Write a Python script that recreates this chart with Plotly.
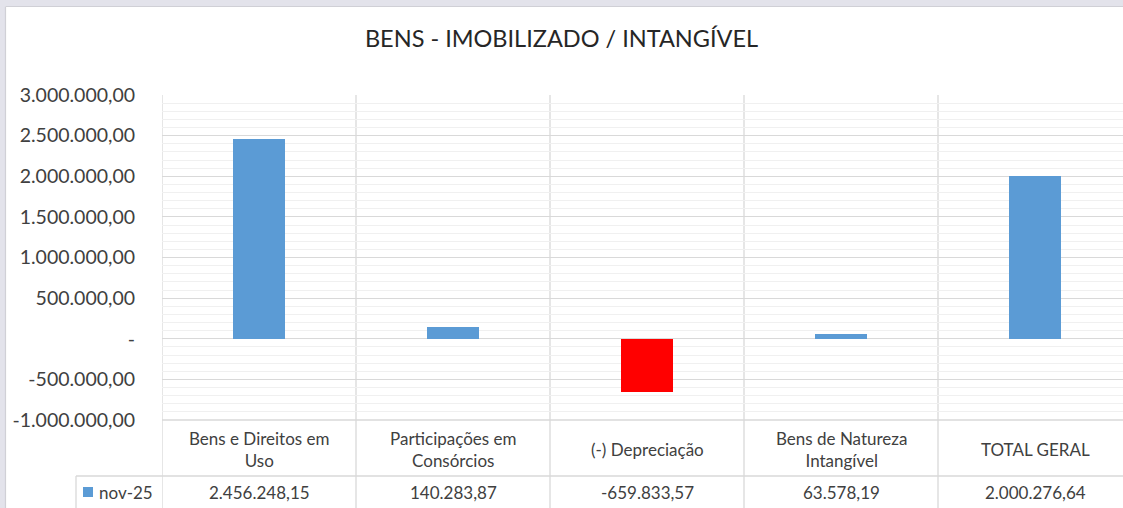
import plotly.graph_objects as go

# ── Canvas ───────────────────────────────────────────────────
W, H = 1123, 508

# ── Data ─────────────────────────────────────────────────────
categories = [
    "Bens e Direitos em<br>Uso",
    "Participações em<br>Consórcios",
    "(-) Depreciação",
    "Bens de Natureza<br>Intangível",
    "TOTAL GERAL",
]
values = [2456248.15, 140283.87, -659833.57, 63578.19, 2000276.64]
series_name = "nov-25"

tick_vals = [3000000, 2500000, 2000000, 1500000, 1000000, 500000, 0, -500000, -1000000]
tick_text = ["3.000.000,00", "2.500.000,00", "2.000.000,00", "1.500.000,00",
             "1.000.000,00", "500.000,00", "-", "-500.000,00", "-1.000.000,00"]

title_text = "BENS - IMOBILIZADO / INTANGÍVEL"

# ── Colours ──────────────────────────────────────────────────
BLUE   = "#5B9BD5"
RED    = "#FF0000"
TEXT   = "#404040"
GRID   = "#D9D9D9"
MINOR  = "#F0F0F0"
FRAME  = "#E3E3EB"
FONT   = "Lato, 'Open Sans', sans-serif"

# plot area in pixels
PL, PT, PB = 162, 95, 420
CAT_W = 194          # px per category
TABLE_ROW = 476      # line between label row and value row
LEG_X = 76           # left edge of series-name cell


def fx(x):
    return x / W


def fy(y):
    return 1 - y / H


def br_fmt(v):
    s = f"{v:,.2f}"
    return s.replace(",", "#").replace(".", ",").replace("#", ".")


colors = [BLUE if v >= 0 else RED for v in values]

fig = go.Figure(go.Bar(
    x=categories,
    y=values,
    width=0.27,
    marker=dict(color=colors, line_width=0),
    name=series_name,
    showlegend=False,
))

shapes = []
# outer frame strips (page behind the chart)
shapes.append(dict(type="rect", xref="paper", yref="paper", x0=0, x1=1,
                   y0=fy(6), y1=1, fillcolor=FRAME, line_width=0, layer="below"))
shapes.append(dict(type="rect", xref="paper", yref="paper", x0=0, x1=fx(5),
                   y0=0, y1=1, fillcolor=FRAME, line_width=0, layer="below"))
shapes.append(dict(type="line", xref="paper", yref="paper", x0=fx(5.5), x1=1,
                   y0=fy(6.5), y1=fy(6.5), line=dict(color="#D0D0D6", width=1.2)))
shapes.append(dict(type="line", xref="paper", yref="paper", x0=fx(5.5), x1=fx(5.5),
                   y0=0, y1=fy(6.5), line=dict(color="#D0D0D6", width=1.2)))

# vertical category boundaries (plot + data table)
for i in range(len(categories) + 1):
    shapes.append(dict(type="line", xref="x", yref="paper",
                       x0=i - 0.5, x1=i - 0.5, y0=0, y1=fy(PT),
                       line=dict(color=GRID, width=1.3), layer="below"))
# table horizontal lines
shapes.append(dict(type="line", xref="paper", yref="paper", x0=fx(PL), x1=1,
                   y0=fy(PB), y1=fy(PB), line=dict(color=GRID, width=1.3)))
shapes.append(dict(type="line", xref="paper", yref="paper", x0=fx(LEG_X), x1=1,
                   y0=fy(TABLE_ROW), y1=fy(TABLE_ROW), line=dict(color=GRID, width=1.3)))
shapes.append(dict(type="line", xref="paper", yref="paper", x0=fx(LEG_X), x1=fx(LEG_X),
                   y0=0, y1=fy(TABLE_ROW), line=dict(color=GRID, width=1.3)))
# legend key
shapes.append(dict(type="rect", xref="paper", yref="paper", x0=fx(83), x1=fx(93),
                   y0=fy(497), y1=fy(487), fillcolor=BLUE, line_width=0))

annotations = []
for i, (cat, v) in enumerate(zip(categories, values)):
    annotations.append(dict(x=i, xref="x", y=fy(449), yref="paper", text=cat,
                            showarrow=False, xanchor="center", yanchor="middle",
                            font=dict(size=17, color=TEXT, family=FONT)))
    annotations.append(dict(x=i, xref="x", y=fy(492), yref="paper", text=br_fmt(v),
                            showarrow=False, xanchor="center", yanchor="middle",
                            font=dict(size=17, color=TEXT, family=FONT)))
annotations.append(dict(x=fx(97), xref="paper", y=fy(492), yref="paper", text=series_name,
                        showarrow=False, xanchor="left", yanchor="middle",
                        font=dict(size=17, color=TEXT, family=FONT)))

fig.update_layout(
    width=W, height=H,
    margin=dict(l=0, r=0, t=0, b=0),
    paper_bgcolor="white",
    plot_bgcolor="white",
    font=dict(family=FONT, color=TEXT, size=18),
    title=dict(text=title_text, x=0.5, xanchor="center", xref="paper",
               y=fy(39), yanchor="middle", yref="paper",
               font=dict(size=23.5, color="#262626", family=FONT)),
    xaxis=dict(
        domain=[fx(PL), 1],
        range=[-0.5, -0.5 + (W - PL) / CAT_W],
        showticklabels=False, showgrid=False, zeroline=False,
        ticks="", automargin=False, fixedrange=True,
    ),
    yaxis=dict(
        domain=[fy(PB), fy(PT)],
        range=[-1000000, 3000000],
        tickvals=tick_vals, ticktext=tick_text,
        tickfont=dict(size=19.5, color=TEXT, family=FONT),
        ticks="outside", ticklen=22, tickcolor="rgba(0,0,0,0)",
        showgrid=True, gridcolor=GRID, gridwidth=1.3,
        minor=dict(dtick=100000, showgrid=True, gridcolor=MINOR, gridwidth=1),
        zeroline=False, automargin=False, fixedrange=True,
    ),
    shapes=shapes,
    annotations=annotations,
    bargap=0,
)

# page body has a default 8px margin; drop it so the figure sits at (0, 0)
fig.write_html(
    "out.html",
    config={"displayModeBar": False},
    post_script="document.body.style.margin='0';document.body.style.overflow='hidden';",
)
